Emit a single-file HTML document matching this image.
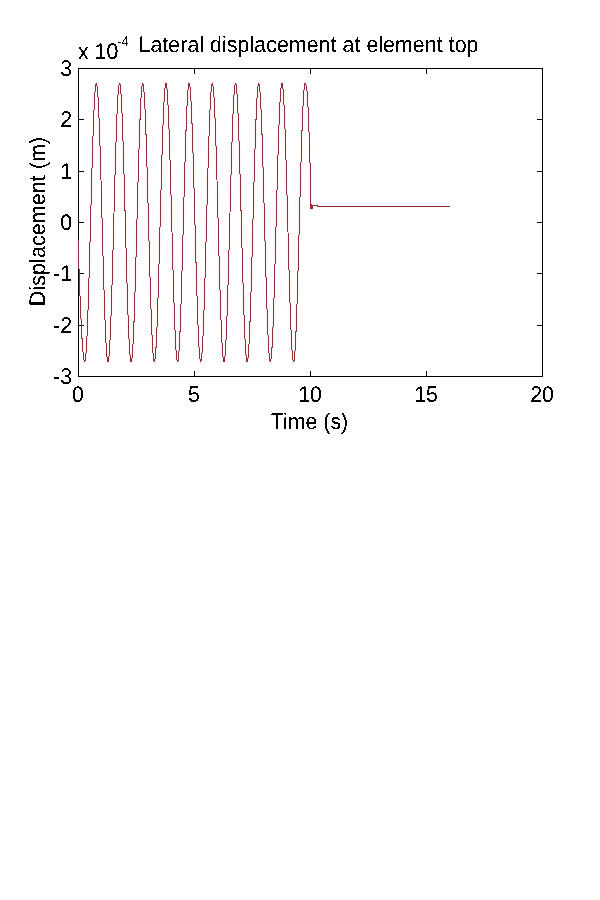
<!DOCTYPE html>
<html lang="en">
<head>
<meta charset="utf-8">
<title>Lateral displacement at element top</title>
<style>
html,body{margin:0;padding:0;background:#fff;}
body{width:600px;height:900px;overflow:hidden;}
svg{display:block;}
text{text-rendering:geometricPrecision;font-family:"Liberation Sans",Arial,Helvetica,sans-serif;font-size:21.33px;fill:#000;}
.ex{font-size:13.33px;}
</style>
</head>
<body>
<svg width="600" height="900" viewBox="0 0 600 900">
<rect x="0" y="0" width="600" height="900" fill="#ffffff"/>
<g shape-rendering="crispEdges" fill="#000">
<rect x="78" y="68" width="465" height="1"/>
<rect x="78" y="376" width="465" height="1"/>
<rect x="78" y="68" width="1" height="309"/>
<rect x="542" y="68" width="1" height="309"/>
<rect x="194" y="371" width="1" height="5"/><rect x="194" y="69" width="1" height="5"/>
<rect x="310" y="371" width="1" height="5"/><rect x="310" y="69" width="1" height="5"/>
<rect x="426" y="371" width="1" height="5"/><rect x="426" y="69" width="1" height="5"/>
<rect x="79" y="119" width="5" height="1"/><rect x="537" y="119" width="5" height="1"/>
<rect x="79" y="171" width="5" height="1"/><rect x="537" y="171" width="5" height="1"/>
<rect x="79" y="222" width="5" height="1"/><rect x="537" y="222" width="5" height="1"/>
<rect x="79" y="273" width="5" height="1"/><rect x="537" y="273" width="5" height="1"/>
<rect x="79" y="325" width="5" height="1"/><rect x="537" y="325" width="5" height="1"/>
</g>
<polyline fill="none" stroke="#ff0050" stroke-opacity="0.04" stroke-width="3" points="78.00,239.94 78.25,247.33 78.50,254.64 78.75,261.87 79.00,268.98 79.25,275.96 79.50,282.78 79.75,289.43 80.00,295.89 80.25,302.13 80.51,308.15 80.76,313.91 81.01,319.42 81.26,324.64 81.51,329.56 81.76,334.18 82.01,338.48 82.26,342.44 82.51,346.05 82.76,349.31 83.01,352.20 83.26,354.71 83.51,356.85 83.76,358.59 84.01,359.95 84.26,360.90 84.51,361.46 84.76,361.61 85.00,361.28 85.23,360.40 85.46,358.98 85.69,357.02 85.92,354.53 86.16,351.52 86.39,348.00 86.62,343.98 86.85,339.49 87.08,334.53 87.32,329.13 87.55,323.31 87.78,317.09 88.01,310.50 88.24,303.56 88.48,296.30 88.71,288.75 88.94,280.94 89.17,272.90 89.40,264.66 89.64,256.25 89.87,247.71 90.10,239.07 90.33,230.36 90.56,221.63 90.80,212.89 91.03,204.20 91.26,195.57 91.49,187.06 91.72,178.68 91.96,170.48 92.19,162.48 92.42,154.72 92.65,147.22 92.88,140.03 93.12,133.15 93.35,126.64 93.58,120.49 93.81,114.76 94.04,109.44 94.28,104.58 94.51,100.18 94.74,96.26 94.97,92.84 95.20,89.93 95.44,87.54 95.67,85.69 95.90,84.38 96.13,83.61 96.36,83.39 96.60,83.72 96.83,84.60 97.06,86.02 97.29,87.98 97.52,90.47 97.76,93.48 97.99,97.00 98.22,101.02 98.45,105.51 98.68,110.47 98.92,115.87 99.15,121.69 99.38,127.91 99.61,134.50 99.84,141.44 100.08,148.70 100.31,156.25 100.54,164.06 100.77,172.10 101.00,180.34 101.24,188.75 101.47,197.29 101.70,205.93 101.93,214.64 102.16,223.37 102.40,232.11 102.63,240.80 102.86,249.43 103.09,257.94 103.32,266.32 103.56,274.52 103.79,282.52 104.02,290.28 104.25,297.78 104.48,304.97 104.72,311.85 104.95,318.36 105.18,324.51 105.41,330.24 105.64,335.56 105.88,340.42 106.11,344.82 106.34,348.74 106.57,352.16 106.80,355.07 107.04,357.46 107.27,359.31 107.50,360.62 107.73,361.39 107.96,361.61 108.20,361.28 108.43,360.40 108.66,358.98 108.89,357.02 109.12,354.53 109.36,351.52 109.59,348.00 109.82,343.98 110.05,339.49 110.28,334.53 110.52,329.13 110.75,323.31 110.98,317.09 111.21,310.50 111.44,303.56 111.68,296.30 111.91,288.75 112.14,280.94 112.37,272.90 112.60,264.66 112.84,256.25 113.07,247.71 113.30,239.07 113.53,230.36 113.76,221.63 114.00,212.89 114.23,204.20 114.46,195.57 114.69,187.06 114.92,178.68 115.16,170.48 115.39,162.48 115.62,154.72 115.85,147.22 116.08,140.03 116.32,133.15 116.55,126.64 116.78,120.49 117.01,114.76 117.24,109.44 117.48,104.58 117.71,100.18 117.94,96.26 118.17,92.84 118.40,89.93 118.64,87.54 118.87,85.69 119.10,84.38 119.33,83.61 119.56,83.39 119.80,83.72 120.03,84.60 120.26,86.02 120.49,87.98 120.72,90.47 120.96,93.48 121.19,97.00 121.42,101.02 121.65,105.51 121.88,110.47 122.12,115.87 122.35,121.69 122.58,127.91 122.81,134.50 123.04,141.44 123.28,148.70 123.51,156.25 123.74,164.06 123.97,172.10 124.20,180.34 124.44,188.75 124.67,197.29 124.90,205.93 125.13,214.64 125.36,223.37 125.60,232.11 125.83,240.80 126.06,249.43 126.29,257.94 126.52,266.32 126.76,274.52 126.99,282.52 127.22,290.28 127.45,297.78 127.68,304.97 127.92,311.85 128.15,318.36 128.38,324.51 128.61,330.24 128.84,335.56 129.08,340.42 129.31,344.82 129.54,348.74 129.77,352.16 130.00,355.07 130.24,357.46 130.47,359.31 130.70,360.62 130.93,361.39 131.16,361.61 131.40,361.28 131.63,360.40 131.86,358.98 132.09,357.02 132.32,354.53 132.56,351.52 132.79,348.00 133.02,343.98 133.25,339.49 133.48,334.53 133.72,329.13 133.95,323.31 134.18,317.09 134.41,310.50 134.64,303.56 134.88,296.30 135.11,288.75 135.34,280.94 135.57,272.90 135.80,264.66 136.04,256.25 136.27,247.71 136.50,239.07 136.73,230.36 136.96,221.63 137.20,212.89 137.43,204.20 137.66,195.57 137.89,187.06 138.12,178.68 138.36,170.48 138.59,162.48 138.82,154.72 139.05,147.22 139.28,140.03 139.52,133.15 139.75,126.64 139.98,120.49 140.21,114.76 140.44,109.44 140.68,104.58 140.91,100.18 141.14,96.26 141.37,92.84 141.60,89.93 141.84,87.54 142.07,85.69 142.30,84.38 142.53,83.61 142.76,83.39 143.00,83.72 143.23,84.60 143.46,86.02 143.69,87.98 143.92,90.47 144.16,93.48 144.39,97.00 144.62,101.02 144.85,105.51 145.08,110.47 145.32,115.87 145.55,121.69 145.78,127.91 146.01,134.50 146.24,141.44 146.48,148.70 146.71,156.25 146.94,164.06 147.17,172.10 147.40,180.34 147.64,188.75 147.87,197.29 148.10,205.93 148.33,214.64 148.56,223.37 148.80,232.11 149.03,240.80 149.26,249.43 149.49,257.94 149.72,266.32 149.96,274.52 150.19,282.52 150.42,290.28 150.65,297.78 150.88,304.97 151.12,311.85 151.35,318.36 151.58,324.51 151.81,330.24 152.04,335.56 152.28,340.42 152.51,344.82 152.74,348.74 152.97,352.16 153.20,355.07 153.44,357.46 153.67,359.31 153.90,360.62 154.13,361.39 154.36,361.61 154.60,361.28 154.83,360.40 155.06,358.98 155.29,357.02 155.52,354.53 155.76,351.52 155.99,348.00 156.22,343.98 156.45,339.49 156.68,334.53 156.92,329.13 157.15,323.31 157.38,317.09 157.61,310.50 157.84,303.56 158.08,296.30 158.31,288.75 158.54,280.94 158.77,272.90 159.00,264.66 159.24,256.25 159.47,247.71 159.70,239.07 159.93,230.36 160.16,221.63 160.40,212.89 160.63,204.20 160.86,195.57 161.09,187.06 161.32,178.68 161.56,170.48 161.79,162.48 162.02,154.72 162.25,147.22 162.48,140.03 162.72,133.15 162.95,126.64 163.18,120.49 163.41,114.76 163.64,109.44 163.88,104.58 164.11,100.18 164.34,96.26 164.57,92.84 164.80,89.93 165.04,87.54 165.27,85.69 165.50,84.38 165.73,83.61 165.96,83.39 166.20,83.72 166.43,84.60 166.66,86.02 166.89,87.98 167.12,90.47 167.36,93.48 167.59,97.00 167.82,101.02 168.05,105.51 168.28,110.47 168.52,115.87 168.75,121.69 168.98,127.91 169.21,134.50 169.44,141.44 169.68,148.70 169.91,156.25 170.14,164.06 170.37,172.10 170.60,180.34 170.84,188.75 171.07,197.29 171.30,205.93 171.53,214.64 171.76,223.37 172.00,232.11 172.23,240.80 172.46,249.43 172.69,257.94 172.92,266.32 173.16,274.52 173.39,282.52 173.62,290.28 173.85,297.78 174.08,304.97 174.32,311.85 174.55,318.36 174.78,324.51 175.01,330.24 175.24,335.56 175.48,340.42 175.71,344.82 175.94,348.74 176.17,352.16 176.40,355.07 176.64,357.46 176.87,359.31 177.10,360.62 177.33,361.39 177.56,361.61 177.80,361.28 178.03,360.40 178.26,358.98 178.49,357.02 178.72,354.53 178.96,351.52 179.19,348.00 179.42,343.98 179.65,339.49 179.88,334.53 180.12,329.13 180.35,323.31 180.58,317.09 180.81,310.50 181.04,303.56 181.28,296.30 181.51,288.75 181.74,280.94 181.97,272.90 182.20,264.66 182.44,256.25 182.67,247.71 182.90,239.07 183.13,230.36 183.36,221.63 183.60,212.89 183.83,204.20 184.06,195.57 184.29,187.06 184.52,178.68 184.76,170.48 184.99,162.48 185.22,154.72 185.45,147.22 185.68,140.03 185.92,133.15 186.15,126.64 186.38,120.49 186.61,114.76 186.84,109.44 187.08,104.58 187.31,100.18 187.54,96.26 187.77,92.84 188.00,89.93 188.24,87.54 188.47,85.69 188.70,84.38 188.93,83.61 189.16,83.39 189.40,83.72 189.63,84.60 189.86,86.02 190.09,87.98 190.32,90.47 190.56,93.48 190.79,97.00 191.02,101.02 191.25,105.51 191.48,110.47 191.72,115.87 191.95,121.69 192.18,127.91 192.41,134.50 192.64,141.44 192.88,148.70 193.11,156.25 193.34,164.06 193.57,172.10 193.80,180.34 194.04,188.75 194.27,197.29 194.50,205.93 194.73,214.64 194.96,223.37 195.20,232.11 195.43,240.80 195.66,249.43 195.89,257.94 196.12,266.32 196.36,274.52 196.59,282.52 196.82,290.28 197.05,297.78 197.28,304.97 197.52,311.85 197.75,318.36 197.98,324.51 198.21,330.24 198.44,335.56 198.68,340.42 198.91,344.82 199.14,348.74 199.37,352.16 199.60,355.07 199.84,357.46 200.07,359.31 200.30,360.62 200.53,361.39 200.76,361.61 201.00,361.28 201.23,360.40 201.46,358.98 201.69,357.02 201.92,354.53 202.16,351.52 202.39,348.00 202.62,343.98 202.85,339.49 203.08,334.53 203.32,329.13 203.55,323.31 203.78,317.09 204.01,310.50 204.24,303.56 204.48,296.30 204.71,288.75 204.94,280.94 205.17,272.90 205.40,264.66 205.64,256.25 205.87,247.71 206.10,239.07 206.33,230.36 206.56,221.63 206.80,212.89 207.03,204.20 207.26,195.57 207.49,187.06 207.72,178.68 207.96,170.48 208.19,162.48 208.42,154.72 208.65,147.22 208.88,140.03 209.12,133.15 209.35,126.64 209.58,120.49 209.81,114.76 210.04,109.44 210.28,104.58 210.51,100.18 210.74,96.26 210.97,92.84 211.20,89.93 211.44,87.54 211.67,85.69 211.90,84.38 212.13,83.61 212.36,83.39 212.60,83.72 212.83,84.60 213.06,86.02 213.29,87.98 213.52,90.47 213.76,93.48 213.99,97.00 214.22,101.02 214.45,105.51 214.68,110.47 214.92,115.87 215.15,121.69 215.38,127.91 215.61,134.50 215.84,141.44 216.08,148.70 216.31,156.25 216.54,164.06 216.77,172.10 217.00,180.34 217.24,188.75 217.47,197.29 217.70,205.93 217.93,214.64 218.16,223.37 218.40,232.11 218.63,240.80 218.86,249.43 219.09,257.94 219.32,266.32 219.56,274.52 219.79,282.52 220.02,290.28 220.25,297.78 220.48,304.97 220.72,311.85 220.95,318.36 221.18,324.51 221.41,330.24 221.64,335.56 221.88,340.42 222.11,344.82 222.34,348.74 222.57,352.16 222.80,355.07 223.04,357.46 223.27,359.31 223.50,360.62 223.73,361.39 223.96,361.61 224.20,361.28 224.43,360.40 224.66,358.98 224.89,357.02 225.12,354.53 225.36,351.52 225.59,348.00 225.82,343.98 226.05,339.49 226.28,334.53 226.52,329.13 226.75,323.31 226.98,317.09 227.21,310.50 227.44,303.56 227.68,296.30 227.91,288.75 228.14,280.94 228.37,272.90 228.60,264.66 228.84,256.25 229.07,247.71 229.30,239.07 229.53,230.36 229.76,221.63 230.00,212.89 230.23,204.20 230.46,195.57 230.69,187.06 230.92,178.68 231.16,170.48 231.39,162.48 231.62,154.72 231.85,147.22 232.08,140.03 232.32,133.15 232.55,126.64 232.78,120.49 233.01,114.76 233.24,109.44 233.48,104.58 233.71,100.18 233.94,96.26 234.17,92.84 234.40,89.93 234.64,87.54 234.87,85.69 235.10,84.38 235.33,83.61 235.56,83.39 235.80,83.72 236.03,84.60 236.26,86.02 236.49,87.98 236.72,90.47 236.96,93.48 237.19,97.00 237.42,101.02 237.65,105.51 237.88,110.47 238.12,115.87 238.35,121.69 238.58,127.91 238.81,134.50 239.04,141.44 239.28,148.70 239.51,156.25 239.74,164.06 239.97,172.10 240.20,180.34 240.44,188.75 240.67,197.29 240.90,205.93 241.13,214.64 241.36,223.37 241.60,232.11 241.83,240.80 242.06,249.43 242.29,257.94 242.52,266.32 242.76,274.52 242.99,282.52 243.22,290.28 243.45,297.78 243.68,304.97 243.92,311.85 244.15,318.36 244.38,324.51 244.61,330.24 244.84,335.56 245.08,340.42 245.31,344.82 245.54,348.74 245.77,352.16 246.00,355.07 246.24,357.46 246.47,359.31 246.70,360.62 246.93,361.39 247.16,361.61 247.40,361.28 247.63,360.40 247.86,358.98 248.09,357.02 248.32,354.53 248.56,351.52 248.79,348.00 249.02,343.98 249.25,339.49 249.48,334.53 249.72,329.13 249.95,323.31 250.18,317.09 250.41,310.50 250.64,303.56 250.88,296.30 251.11,288.75 251.34,280.94 251.57,272.90 251.80,264.66 252.04,256.25 252.27,247.71 252.50,239.07 252.73,230.36 252.96,221.63 253.20,212.89 253.43,204.20 253.66,195.57 253.89,187.06 254.12,178.68 254.36,170.48 254.59,162.48 254.82,154.72 255.05,147.22 255.28,140.03 255.52,133.15 255.75,126.64 255.98,120.49 256.21,114.76 256.44,109.44 256.68,104.58 256.91,100.18 257.14,96.26 257.37,92.84 257.60,89.93 257.84,87.54 258.07,85.69 258.30,84.38 258.53,83.61 258.76,83.39 259.00,83.72 259.23,84.60 259.46,86.02 259.69,87.98 259.92,90.47 260.16,93.48 260.39,97.00 260.62,101.02 260.85,105.51 261.08,110.47 261.32,115.87 261.55,121.69 261.78,127.91 262.01,134.50 262.24,141.44 262.48,148.70 262.71,156.25 262.94,164.06 263.17,172.10 263.40,180.34 263.64,188.75 263.87,197.29 264.10,205.93 264.33,214.64 264.56,223.37 264.80,232.11 265.03,240.80 265.26,249.43 265.49,257.94 265.72,266.32 265.96,274.52 266.19,282.52 266.42,290.28 266.65,297.78 266.88,304.97 267.12,311.85 267.35,318.36 267.58,324.51 267.81,330.24 268.04,335.56 268.28,340.42 268.51,344.82 268.74,348.74 268.97,352.16 269.20,355.07 269.44,357.46 269.67,359.31 269.90,360.62 270.13,361.39 270.36,361.61 270.60,361.28 270.83,360.40 271.06,358.98 271.29,357.02 271.52,354.53 271.76,351.52 271.99,348.00 272.22,343.98 272.45,339.49 272.68,334.53 272.92,329.13 273.15,323.31 273.38,317.09 273.61,310.50 273.84,303.56 274.08,296.30 274.31,288.75 274.54,280.94 274.77,272.90 275.00,264.66 275.24,256.25 275.47,247.71 275.70,239.07 275.93,230.36 276.16,221.63 276.40,212.89 276.63,204.20 276.86,195.57 277.09,187.06 277.32,178.68 277.56,170.48 277.79,162.48 278.02,154.72 278.25,147.22 278.48,140.03 278.72,133.15 278.95,126.64 279.18,120.49 279.41,114.76 279.64,109.44 279.88,104.58 280.11,100.18 280.34,96.26 280.57,92.84 280.80,89.93 281.04,87.54 281.27,85.69 281.50,84.38 281.73,83.61 281.96,83.39 282.20,83.72 282.43,84.60 282.66,86.02 282.89,87.98 283.12,90.47 283.36,93.48 283.59,97.00 283.82,101.02 284.05,105.51 284.28,110.47 284.52,115.87 284.75,121.69 284.98,127.91 285.21,134.50 285.44,141.44 285.68,148.70 285.91,156.25 286.14,164.06 286.37,172.10 286.60,180.34 286.84,188.75 287.07,197.29 287.30,205.93 287.53,214.64 287.76,223.37 288.00,232.11 288.23,240.80 288.46,249.43 288.69,257.94 288.92,266.32 289.16,274.52 289.39,282.52 289.62,290.28 289.85,297.78 290.08,304.97 290.32,311.85 290.55,318.36 290.78,324.51 291.01,330.24 291.24,335.56 291.48,340.42 291.71,344.82 291.94,348.74 292.17,352.16 292.40,355.07 292.64,357.46 292.87,359.31 293.10,360.62 293.33,361.39 293.56,361.61 293.80,361.28 294.03,360.40 294.26,358.98 294.49,357.02 294.72,354.53 294.96,351.52 295.19,348.00 295.42,343.98 295.65,339.49 295.88,334.53 296.12,329.13 296.35,323.31 296.58,317.09 296.81,310.50 297.04,303.56 297.28,296.30 297.51,288.75 297.74,280.94 297.97,272.90 298.20,264.66 298.44,256.25 298.67,247.71 298.90,239.07 299.13,230.36 299.36,221.63 299.60,212.89 299.83,204.20 300.06,195.57 300.29,187.06 300.52,178.68 300.76,170.48 300.99,162.48 301.22,154.72 301.45,147.22 301.68,140.03 301.92,133.15 302.15,126.64 302.38,120.49 302.61,114.76 302.84,109.44 303.08,104.58 303.31,100.18 303.54,96.26 303.77,92.84 304.00,89.93 304.24,87.54 304.47,85.69 304.70,84.38 304.93,83.61 305.16,83.40 305.40,83.46 305.63,83.78 305.86,84.38 306.09,85.24 306.32,86.37 306.56,87.76 306.79,89.41 307.02,91.32 307.25,93.48 307.48,97.00 307.72,101.02 307.95,105.51 308.18,110.47 308.41,115.87 308.64,121.69 308.88,127.91 309.11,134.50 309.34,141.44 309.57,148.70 309.80,156.25 310.04,164.06 310.27,172.10 310.50,180.34 310.73,208.64 311.20,208.64 311.43,204.02 311.66,204.02 311.89,208.13 312.12,208.13 312.36,205.30 317.23,205.30 317.46,206.59 449.70,206.59"/>
<polyline shape-rendering="crispEdges" fill="none" stroke="#963038" stroke-width="1" stroke-linejoin="miter" points="78.00,239.94 78.25,247.33 78.50,254.64 78.75,261.87 79.00,268.98 79.25,275.96 79.50,282.78 79.75,289.43 80.00,295.89 80.25,302.13 80.51,308.15 80.76,313.91 81.01,319.42 81.26,324.64 81.51,329.56 81.76,334.18 82.01,338.48 82.26,342.44 82.51,346.05 82.76,349.31 83.01,352.20 83.26,354.71 83.51,356.85 83.76,358.59 84.01,359.95 84.26,360.90 84.51,361.46 84.76,361.61 85.00,361.28 85.23,360.40 85.46,358.98 85.69,357.02 85.92,354.53 86.16,351.52 86.39,348.00 86.62,343.98 86.85,339.49 87.08,334.53 87.32,329.13 87.55,323.31 87.78,317.09 88.01,310.50 88.24,303.56 88.48,296.30 88.71,288.75 88.94,280.94 89.17,272.90 89.40,264.66 89.64,256.25 89.87,247.71 90.10,239.07 90.33,230.36 90.56,221.63 90.80,212.89 91.03,204.20 91.26,195.57 91.49,187.06 91.72,178.68 91.96,170.48 92.19,162.48 92.42,154.72 92.65,147.22 92.88,140.03 93.12,133.15 93.35,126.64 93.58,120.49 93.81,114.76 94.04,109.44 94.28,104.58 94.51,100.18 94.74,96.26 94.97,92.84 95.20,89.93 95.44,87.54 95.67,85.69 95.90,84.38 96.13,83.61 96.36,83.39 96.60,83.72 96.83,84.60 97.06,86.02 97.29,87.98 97.52,90.47 97.76,93.48 97.99,97.00 98.22,101.02 98.45,105.51 98.68,110.47 98.92,115.87 99.15,121.69 99.38,127.91 99.61,134.50 99.84,141.44 100.08,148.70 100.31,156.25 100.54,164.06 100.77,172.10 101.00,180.34 101.24,188.75 101.47,197.29 101.70,205.93 101.93,214.64 102.16,223.37 102.40,232.11 102.63,240.80 102.86,249.43 103.09,257.94 103.32,266.32 103.56,274.52 103.79,282.52 104.02,290.28 104.25,297.78 104.48,304.97 104.72,311.85 104.95,318.36 105.18,324.51 105.41,330.24 105.64,335.56 105.88,340.42 106.11,344.82 106.34,348.74 106.57,352.16 106.80,355.07 107.04,357.46 107.27,359.31 107.50,360.62 107.73,361.39 107.96,361.61 108.20,361.28 108.43,360.40 108.66,358.98 108.89,357.02 109.12,354.53 109.36,351.52 109.59,348.00 109.82,343.98 110.05,339.49 110.28,334.53 110.52,329.13 110.75,323.31 110.98,317.09 111.21,310.50 111.44,303.56 111.68,296.30 111.91,288.75 112.14,280.94 112.37,272.90 112.60,264.66 112.84,256.25 113.07,247.71 113.30,239.07 113.53,230.36 113.76,221.63 114.00,212.89 114.23,204.20 114.46,195.57 114.69,187.06 114.92,178.68 115.16,170.48 115.39,162.48 115.62,154.72 115.85,147.22 116.08,140.03 116.32,133.15 116.55,126.64 116.78,120.49 117.01,114.76 117.24,109.44 117.48,104.58 117.71,100.18 117.94,96.26 118.17,92.84 118.40,89.93 118.64,87.54 118.87,85.69 119.10,84.38 119.33,83.61 119.56,83.39 119.80,83.72 120.03,84.60 120.26,86.02 120.49,87.98 120.72,90.47 120.96,93.48 121.19,97.00 121.42,101.02 121.65,105.51 121.88,110.47 122.12,115.87 122.35,121.69 122.58,127.91 122.81,134.50 123.04,141.44 123.28,148.70 123.51,156.25 123.74,164.06 123.97,172.10 124.20,180.34 124.44,188.75 124.67,197.29 124.90,205.93 125.13,214.64 125.36,223.37 125.60,232.11 125.83,240.80 126.06,249.43 126.29,257.94 126.52,266.32 126.76,274.52 126.99,282.52 127.22,290.28 127.45,297.78 127.68,304.97 127.92,311.85 128.15,318.36 128.38,324.51 128.61,330.24 128.84,335.56 129.08,340.42 129.31,344.82 129.54,348.74 129.77,352.16 130.00,355.07 130.24,357.46 130.47,359.31 130.70,360.62 130.93,361.39 131.16,361.61 131.40,361.28 131.63,360.40 131.86,358.98 132.09,357.02 132.32,354.53 132.56,351.52 132.79,348.00 133.02,343.98 133.25,339.49 133.48,334.53 133.72,329.13 133.95,323.31 134.18,317.09 134.41,310.50 134.64,303.56 134.88,296.30 135.11,288.75 135.34,280.94 135.57,272.90 135.80,264.66 136.04,256.25 136.27,247.71 136.50,239.07 136.73,230.36 136.96,221.63 137.20,212.89 137.43,204.20 137.66,195.57 137.89,187.06 138.12,178.68 138.36,170.48 138.59,162.48 138.82,154.72 139.05,147.22 139.28,140.03 139.52,133.15 139.75,126.64 139.98,120.49 140.21,114.76 140.44,109.44 140.68,104.58 140.91,100.18 141.14,96.26 141.37,92.84 141.60,89.93 141.84,87.54 142.07,85.69 142.30,84.38 142.53,83.61 142.76,83.39 143.00,83.72 143.23,84.60 143.46,86.02 143.69,87.98 143.92,90.47 144.16,93.48 144.39,97.00 144.62,101.02 144.85,105.51 145.08,110.47 145.32,115.87 145.55,121.69 145.78,127.91 146.01,134.50 146.24,141.44 146.48,148.70 146.71,156.25 146.94,164.06 147.17,172.10 147.40,180.34 147.64,188.75 147.87,197.29 148.10,205.93 148.33,214.64 148.56,223.37 148.80,232.11 149.03,240.80 149.26,249.43 149.49,257.94 149.72,266.32 149.96,274.52 150.19,282.52 150.42,290.28 150.65,297.78 150.88,304.97 151.12,311.85 151.35,318.36 151.58,324.51 151.81,330.24 152.04,335.56 152.28,340.42 152.51,344.82 152.74,348.74 152.97,352.16 153.20,355.07 153.44,357.46 153.67,359.31 153.90,360.62 154.13,361.39 154.36,361.61 154.60,361.28 154.83,360.40 155.06,358.98 155.29,357.02 155.52,354.53 155.76,351.52 155.99,348.00 156.22,343.98 156.45,339.49 156.68,334.53 156.92,329.13 157.15,323.31 157.38,317.09 157.61,310.50 157.84,303.56 158.08,296.30 158.31,288.75 158.54,280.94 158.77,272.90 159.00,264.66 159.24,256.25 159.47,247.71 159.70,239.07 159.93,230.36 160.16,221.63 160.40,212.89 160.63,204.20 160.86,195.57 161.09,187.06 161.32,178.68 161.56,170.48 161.79,162.48 162.02,154.72 162.25,147.22 162.48,140.03 162.72,133.15 162.95,126.64 163.18,120.49 163.41,114.76 163.64,109.44 163.88,104.58 164.11,100.18 164.34,96.26 164.57,92.84 164.80,89.93 165.04,87.54 165.27,85.69 165.50,84.38 165.73,83.61 165.96,83.39 166.20,83.72 166.43,84.60 166.66,86.02 166.89,87.98 167.12,90.47 167.36,93.48 167.59,97.00 167.82,101.02 168.05,105.51 168.28,110.47 168.52,115.87 168.75,121.69 168.98,127.91 169.21,134.50 169.44,141.44 169.68,148.70 169.91,156.25 170.14,164.06 170.37,172.10 170.60,180.34 170.84,188.75 171.07,197.29 171.30,205.93 171.53,214.64 171.76,223.37 172.00,232.11 172.23,240.80 172.46,249.43 172.69,257.94 172.92,266.32 173.16,274.52 173.39,282.52 173.62,290.28 173.85,297.78 174.08,304.97 174.32,311.85 174.55,318.36 174.78,324.51 175.01,330.24 175.24,335.56 175.48,340.42 175.71,344.82 175.94,348.74 176.17,352.16 176.40,355.07 176.64,357.46 176.87,359.31 177.10,360.62 177.33,361.39 177.56,361.61 177.80,361.28 178.03,360.40 178.26,358.98 178.49,357.02 178.72,354.53 178.96,351.52 179.19,348.00 179.42,343.98 179.65,339.49 179.88,334.53 180.12,329.13 180.35,323.31 180.58,317.09 180.81,310.50 181.04,303.56 181.28,296.30 181.51,288.75 181.74,280.94 181.97,272.90 182.20,264.66 182.44,256.25 182.67,247.71 182.90,239.07 183.13,230.36 183.36,221.63 183.60,212.89 183.83,204.20 184.06,195.57 184.29,187.06 184.52,178.68 184.76,170.48 184.99,162.48 185.22,154.72 185.45,147.22 185.68,140.03 185.92,133.15 186.15,126.64 186.38,120.49 186.61,114.76 186.84,109.44 187.08,104.58 187.31,100.18 187.54,96.26 187.77,92.84 188.00,89.93 188.24,87.54 188.47,85.69 188.70,84.38 188.93,83.61 189.16,83.39 189.40,83.72 189.63,84.60 189.86,86.02 190.09,87.98 190.32,90.47 190.56,93.48 190.79,97.00 191.02,101.02 191.25,105.51 191.48,110.47 191.72,115.87 191.95,121.69 192.18,127.91 192.41,134.50 192.64,141.44 192.88,148.70 193.11,156.25 193.34,164.06 193.57,172.10 193.80,180.34 194.04,188.75 194.27,197.29 194.50,205.93 194.73,214.64 194.96,223.37 195.20,232.11 195.43,240.80 195.66,249.43 195.89,257.94 196.12,266.32 196.36,274.52 196.59,282.52 196.82,290.28 197.05,297.78 197.28,304.97 197.52,311.85 197.75,318.36 197.98,324.51 198.21,330.24 198.44,335.56 198.68,340.42 198.91,344.82 199.14,348.74 199.37,352.16 199.60,355.07 199.84,357.46 200.07,359.31 200.30,360.62 200.53,361.39 200.76,361.61 201.00,361.28 201.23,360.40 201.46,358.98 201.69,357.02 201.92,354.53 202.16,351.52 202.39,348.00 202.62,343.98 202.85,339.49 203.08,334.53 203.32,329.13 203.55,323.31 203.78,317.09 204.01,310.50 204.24,303.56 204.48,296.30 204.71,288.75 204.94,280.94 205.17,272.90 205.40,264.66 205.64,256.25 205.87,247.71 206.10,239.07 206.33,230.36 206.56,221.63 206.80,212.89 207.03,204.20 207.26,195.57 207.49,187.06 207.72,178.68 207.96,170.48 208.19,162.48 208.42,154.72 208.65,147.22 208.88,140.03 209.12,133.15 209.35,126.64 209.58,120.49 209.81,114.76 210.04,109.44 210.28,104.58 210.51,100.18 210.74,96.26 210.97,92.84 211.20,89.93 211.44,87.54 211.67,85.69 211.90,84.38 212.13,83.61 212.36,83.39 212.60,83.72 212.83,84.60 213.06,86.02 213.29,87.98 213.52,90.47 213.76,93.48 213.99,97.00 214.22,101.02 214.45,105.51 214.68,110.47 214.92,115.87 215.15,121.69 215.38,127.91 215.61,134.50 215.84,141.44 216.08,148.70 216.31,156.25 216.54,164.06 216.77,172.10 217.00,180.34 217.24,188.75 217.47,197.29 217.70,205.93 217.93,214.64 218.16,223.37 218.40,232.11 218.63,240.80 218.86,249.43 219.09,257.94 219.32,266.32 219.56,274.52 219.79,282.52 220.02,290.28 220.25,297.78 220.48,304.97 220.72,311.85 220.95,318.36 221.18,324.51 221.41,330.24 221.64,335.56 221.88,340.42 222.11,344.82 222.34,348.74 222.57,352.16 222.80,355.07 223.04,357.46 223.27,359.31 223.50,360.62 223.73,361.39 223.96,361.61 224.20,361.28 224.43,360.40 224.66,358.98 224.89,357.02 225.12,354.53 225.36,351.52 225.59,348.00 225.82,343.98 226.05,339.49 226.28,334.53 226.52,329.13 226.75,323.31 226.98,317.09 227.21,310.50 227.44,303.56 227.68,296.30 227.91,288.75 228.14,280.94 228.37,272.90 228.60,264.66 228.84,256.25 229.07,247.71 229.30,239.07 229.53,230.36 229.76,221.63 230.00,212.89 230.23,204.20 230.46,195.57 230.69,187.06 230.92,178.68 231.16,170.48 231.39,162.48 231.62,154.72 231.85,147.22 232.08,140.03 232.32,133.15 232.55,126.64 232.78,120.49 233.01,114.76 233.24,109.44 233.48,104.58 233.71,100.18 233.94,96.26 234.17,92.84 234.40,89.93 234.64,87.54 234.87,85.69 235.10,84.38 235.33,83.61 235.56,83.39 235.80,83.72 236.03,84.60 236.26,86.02 236.49,87.98 236.72,90.47 236.96,93.48 237.19,97.00 237.42,101.02 237.65,105.51 237.88,110.47 238.12,115.87 238.35,121.69 238.58,127.91 238.81,134.50 239.04,141.44 239.28,148.70 239.51,156.25 239.74,164.06 239.97,172.10 240.20,180.34 240.44,188.75 240.67,197.29 240.90,205.93 241.13,214.64 241.36,223.37 241.60,232.11 241.83,240.80 242.06,249.43 242.29,257.94 242.52,266.32 242.76,274.52 242.99,282.52 243.22,290.28 243.45,297.78 243.68,304.97 243.92,311.85 244.15,318.36 244.38,324.51 244.61,330.24 244.84,335.56 245.08,340.42 245.31,344.82 245.54,348.74 245.77,352.16 246.00,355.07 246.24,357.46 246.47,359.31 246.70,360.62 246.93,361.39 247.16,361.61 247.40,361.28 247.63,360.40 247.86,358.98 248.09,357.02 248.32,354.53 248.56,351.52 248.79,348.00 249.02,343.98 249.25,339.49 249.48,334.53 249.72,329.13 249.95,323.31 250.18,317.09 250.41,310.50 250.64,303.56 250.88,296.30 251.11,288.75 251.34,280.94 251.57,272.90 251.80,264.66 252.04,256.25 252.27,247.71 252.50,239.07 252.73,230.36 252.96,221.63 253.20,212.89 253.43,204.20 253.66,195.57 253.89,187.06 254.12,178.68 254.36,170.48 254.59,162.48 254.82,154.72 255.05,147.22 255.28,140.03 255.52,133.15 255.75,126.64 255.98,120.49 256.21,114.76 256.44,109.44 256.68,104.58 256.91,100.18 257.14,96.26 257.37,92.84 257.60,89.93 257.84,87.54 258.07,85.69 258.30,84.38 258.53,83.61 258.76,83.39 259.00,83.72 259.23,84.60 259.46,86.02 259.69,87.98 259.92,90.47 260.16,93.48 260.39,97.00 260.62,101.02 260.85,105.51 261.08,110.47 261.32,115.87 261.55,121.69 261.78,127.91 262.01,134.50 262.24,141.44 262.48,148.70 262.71,156.25 262.94,164.06 263.17,172.10 263.40,180.34 263.64,188.75 263.87,197.29 264.10,205.93 264.33,214.64 264.56,223.37 264.80,232.11 265.03,240.80 265.26,249.43 265.49,257.94 265.72,266.32 265.96,274.52 266.19,282.52 266.42,290.28 266.65,297.78 266.88,304.97 267.12,311.85 267.35,318.36 267.58,324.51 267.81,330.24 268.04,335.56 268.28,340.42 268.51,344.82 268.74,348.74 268.97,352.16 269.20,355.07 269.44,357.46 269.67,359.31 269.90,360.62 270.13,361.39 270.36,361.61 270.60,361.28 270.83,360.40 271.06,358.98 271.29,357.02 271.52,354.53 271.76,351.52 271.99,348.00 272.22,343.98 272.45,339.49 272.68,334.53 272.92,329.13 273.15,323.31 273.38,317.09 273.61,310.50 273.84,303.56 274.08,296.30 274.31,288.75 274.54,280.94 274.77,272.90 275.00,264.66 275.24,256.25 275.47,247.71 275.70,239.07 275.93,230.36 276.16,221.63 276.40,212.89 276.63,204.20 276.86,195.57 277.09,187.06 277.32,178.68 277.56,170.48 277.79,162.48 278.02,154.72 278.25,147.22 278.48,140.03 278.72,133.15 278.95,126.64 279.18,120.49 279.41,114.76 279.64,109.44 279.88,104.58 280.11,100.18 280.34,96.26 280.57,92.84 280.80,89.93 281.04,87.54 281.27,85.69 281.50,84.38 281.73,83.61 281.96,83.39 282.20,83.72 282.43,84.60 282.66,86.02 282.89,87.98 283.12,90.47 283.36,93.48 283.59,97.00 283.82,101.02 284.05,105.51 284.28,110.47 284.52,115.87 284.75,121.69 284.98,127.91 285.21,134.50 285.44,141.44 285.68,148.70 285.91,156.25 286.14,164.06 286.37,172.10 286.60,180.34 286.84,188.75 287.07,197.29 287.30,205.93 287.53,214.64 287.76,223.37 288.00,232.11 288.23,240.80 288.46,249.43 288.69,257.94 288.92,266.32 289.16,274.52 289.39,282.52 289.62,290.28 289.85,297.78 290.08,304.97 290.32,311.85 290.55,318.36 290.78,324.51 291.01,330.24 291.24,335.56 291.48,340.42 291.71,344.82 291.94,348.74 292.17,352.16 292.40,355.07 292.64,357.46 292.87,359.31 293.10,360.62 293.33,361.39 293.56,361.61 293.80,361.28 294.03,360.40 294.26,358.98 294.49,357.02 294.72,354.53 294.96,351.52 295.19,348.00 295.42,343.98 295.65,339.49 295.88,334.53 296.12,329.13 296.35,323.31 296.58,317.09 296.81,310.50 297.04,303.56 297.28,296.30 297.51,288.75 297.74,280.94 297.97,272.90 298.20,264.66 298.44,256.25 298.67,247.71 298.90,239.07 299.13,230.36 299.36,221.63 299.60,212.89 299.83,204.20 300.06,195.57 300.29,187.06 300.52,178.68 300.76,170.48 300.99,162.48 301.22,154.72 301.45,147.22 301.68,140.03 301.92,133.15 302.15,126.64 302.38,120.49 302.61,114.76 302.84,109.44 303.08,104.58 303.31,100.18 303.54,96.26 303.77,92.84 304.00,89.93 304.24,87.54 304.47,85.69 304.70,84.38 304.93,83.61 305.16,83.40 305.40,83.46 305.63,83.78 305.86,84.38 306.09,85.24 306.32,86.37 306.56,87.76 306.79,89.41 307.02,91.32 307.25,93.48 307.48,97.00 307.72,101.02 307.95,105.51 308.18,110.47 308.41,115.87 308.64,121.69 308.88,127.91 309.11,134.50 309.34,141.44 309.57,148.70 309.80,156.25 310.04,164.06 310.27,172.10 310.50,180.34 310.73,208.64 311.20,208.64 311.43,204.02 311.66,204.02 311.89,208.13 312.12,208.13 312.36,205.30 317.23,205.30 317.46,206.59 449.70,206.59"/>
<defs><filter id="th" x="0" y="0" width="600" height="900" filterUnits="userSpaceOnUse" color-interpolation-filters="sRGB"><feComponentTransfer><feFuncA type="discrete" tableValues="0 0 0 0 0 0 0 0 0 1 1 1 1 1 1 1 1 1 1 1"/></feComponentTransfer></filter><filter id="th2" x="0" y="0" width="600" height="900" filterUnits="userSpaceOnUse" color-interpolation-filters="sRGB"><feComponentTransfer><feFuncA type="discrete" tableValues="0 0 0 0 0 1 1 1 1 1"/></feComponentTransfer></filter></defs>
<g id="labels" filter="url(#th)">
<text transform="translate(308.5,52) scale(1,1.055)" text-anchor="middle" letter-spacing="0.06">Lateral displacement at element top</text>
<text transform="translate(78,59) scale(1,1.055)">x 10</text>
<text transform="translate(72,76) scale(1,1.055)" text-anchor="end">3</text>
<text transform="translate(72,127) scale(1,1.055)" text-anchor="end">2</text>
<text transform="translate(72,179) scale(1,1.055)" text-anchor="end">1</text>
<text transform="translate(72,230) scale(1,1.055)" text-anchor="end">0</text>
<text transform="translate(72,281) scale(1,1.055)" text-anchor="end">-1</text>
<text transform="translate(72,333) scale(1,1.055)" text-anchor="end">-2</text>
<text transform="translate(72,384) scale(1,1.055)" text-anchor="end">-3</text>
<text transform="translate(78,402) scale(1,1.055)" text-anchor="middle">0</text>
<text transform="translate(194,402) scale(1,1.055)" text-anchor="middle">5</text>
<text transform="translate(310,402) scale(1,1.055)" text-anchor="middle">10</text>
<text transform="translate(426,402) scale(1,1.055)" text-anchor="middle">15</text>
<text transform="translate(542,402) scale(1,1.055)" text-anchor="middle">20</text>
<text transform="translate(309.5,429) scale(1,1.055)" text-anchor="middle">Time (s)</text>
<text transform="translate(45,221.5) rotate(-90) scale(1,1.055)" text-anchor="middle" letter-spacing="0.16">Displacement (m)</text>
</g>
<g filter="url(#th2)">
<text transform="translate(117,46) scale(1,1.07)" class="ex">-4</text>
</g>
</svg>
</body>
</html>
